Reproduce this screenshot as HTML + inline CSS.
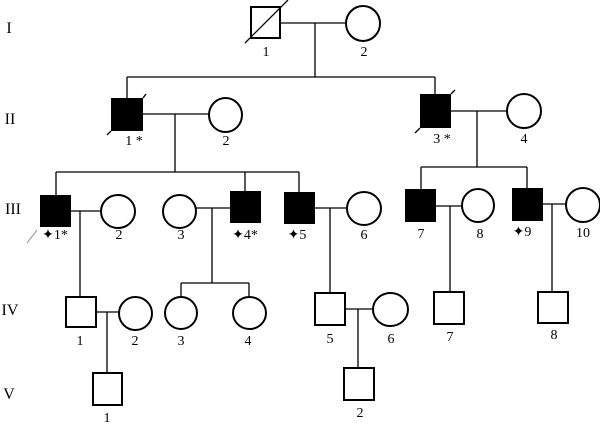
<!DOCTYPE html>
<html><head><meta charset="utf-8"><style>
html,body{margin:0;padding:0;background:#fff;width:600px;height:427px;overflow:hidden}
svg text{font-family:"Liberation Serif",serif;font-size:14px;fill:#000}
svg text.r{font-size:16px}
</style></head><body>
<svg width="600" height="427" viewBox="0 0 600 427" xmlns="http://www.w3.org/2000/svg">
<g stroke="#000" stroke-width="1.3" fill="none">
<line x1="280" y1="23" x2="346" y2="23"/>
<line x1="315" y1="23" x2="315" y2="77"/>
<line x1="127" y1="77" x2="435" y2="77"/>
<line x1="127" y1="77" x2="127" y2="98"/>
<line x1="435" y1="77" x2="435" y2="94"/>
<line x1="143" y1="114" x2="209" y2="114"/>
<line x1="175" y1="114" x2="175" y2="172"/>
<line x1="56" y1="172" x2="299" y2="172"/>
<line x1="56" y1="172" x2="56" y2="195"/>
<line x1="245" y1="172" x2="245" y2="191"/>
<line x1="299" y1="172" x2="299" y2="192"/>
<line x1="451" y1="111" x2="507" y2="111"/>
<line x1="477" y1="111" x2="477" y2="167"/>
<line x1="421" y1="167" x2="527" y2="167"/>
<line x1="421" y1="167" x2="421" y2="189"/>
<line x1="527" y1="167" x2="527" y2="188"/>
<line x1="71" y1="211" x2="101" y2="211"/>
<line x1="80" y1="211" x2="80" y2="297"/>
<line x1="196" y1="208" x2="230" y2="208"/>
<line x1="212" y1="208" x2="212" y2="283"/>
<line x1="181" y1="283" x2="249" y2="283"/>
<line x1="181" y1="283" x2="181" y2="297"/>
<line x1="249" y1="283" x2="249" y2="297"/>
<line x1="315" y1="208" x2="347" y2="208"/>
<line x1="330" y1="208" x2="330" y2="293"/>
<line x1="436" y1="206" x2="462" y2="206"/>
<line x1="450" y1="206" x2="450" y2="292"/>
<line x1="543" y1="204" x2="566" y2="204"/>
<line x1="552" y1="204" x2="552" y2="292"/>
<line x1="96" y1="312" x2="119" y2="312"/>
<line x1="107" y1="312" x2="107" y2="373"/>
<line x1="345" y1="309" x2="373" y2="309"/>
<line x1="358" y1="309" x2="358" y2="368"/>
<line x1="143" y1="98" x2="146" y2="94"/>
<line x1="111" y1="131" x2="107" y2="135"/>
<line x1="451" y1="94" x2="455" y2="90"/>
<line x1="420" y1="128" x2="415" y2="133"/>
<line x1="27" y1="243" x2="37" y2="230" stroke="#888" stroke-width="1"/>
</g>
<g stroke="#000" stroke-width="2" fill="#fff">
<rect x="251" y="7" width="29" height="31"/>
<ellipse cx="363" cy="23.5" rx="17" ry="17.5"/>
<ellipse cx="225.5" cy="115" rx="16.5" ry="17"/>
<ellipse cx="524" cy="111" rx="17" ry="17"/>
<ellipse cx="118" cy="211.5" rx="17" ry="16.5"/>
<ellipse cx="179.5" cy="211.5" rx="16.5" ry="16.5"/>
<ellipse cx="364" cy="208.5" rx="17" ry="16.5"/>
<ellipse cx="478" cy="205.5" rx="16" ry="16.5"/>
<ellipse cx="583" cy="205" rx="17" ry="17"/>
<ellipse cx="135.5" cy="313.5" rx="16.5" ry="16.5"/>
<ellipse cx="181" cy="313" rx="16" ry="16"/>
<ellipse cx="249.5" cy="313" rx="16.5" ry="16"/>
<ellipse cx="390.5" cy="309.5" rx="17.5" ry="16.5"/>
<rect x="66" y="297" width="30" height="30"/>
<rect x="315" y="293" width="30" height="32"/>
<rect x="434" y="292" width="30" height="32"/>
<rect x="538" y="292" width="30" height="31"/>
<rect x="93" y="373" width="29" height="32"/>
<rect x="344" y="368" width="30" height="32"/>
</g>
<line x1="245" y1="43" x2="288" y2="0" stroke="#000" stroke-width="1.3"/>
<g fill="#000">
<rect x="111" y="98" width="32" height="33"/>
<rect x="420" y="94" width="31" height="34"/>
<rect x="40" y="195" width="31" height="32"/>
<rect x="230" y="191" width="31" height="32"/>
<rect x="284" y="192" width="31" height="32"/>
<rect x="405" y="189" width="31" height="33"/>
<rect x="512" y="188" width="31" height="33"/>
</g>
<g text-anchor="middle">
<text class="r" x="9" y="33">I</text>
<text class="r" x="10" y="124">II</text>
<text class="r" x="13" y="214">III</text>
<text class="r" x="10" y="315">IV</text>
<text class="r" x="9" y="399">V</text>
<text x="266" y="56">1</text><text x="364" y="56">2</text>
<text x="134" y="145">1 *</text><text x="226" y="145">2</text>
<text x="442" y="143">3 *</text><text x="524" y="143">4</text>
<text x="55" y="239">✦1*</text><text x="119" y="239">2</text>
<text x="181" y="239">3</text><text x="245" y="239">✦4*</text>
<text x="297" y="239">✦5</text><text x="364" y="239">6</text>
<text x="421" y="238">7</text><text x="480" y="238">8</text>
<text x="522" y="236">✦9</text><text x="583" y="237">10</text>
<text x="80" y="345">1</text><text x="135" y="345">2</text>
<text x="181" y="345">3</text><text x="248" y="345">4</text>
<text x="330" y="343">5</text><text x="391" y="343">6</text>
<text x="450" y="341">7</text><text x="554" y="339">8</text>
<text x="107" y="422">1</text><text x="360" y="417">2</text>
</g>
</svg>
</body></html>
